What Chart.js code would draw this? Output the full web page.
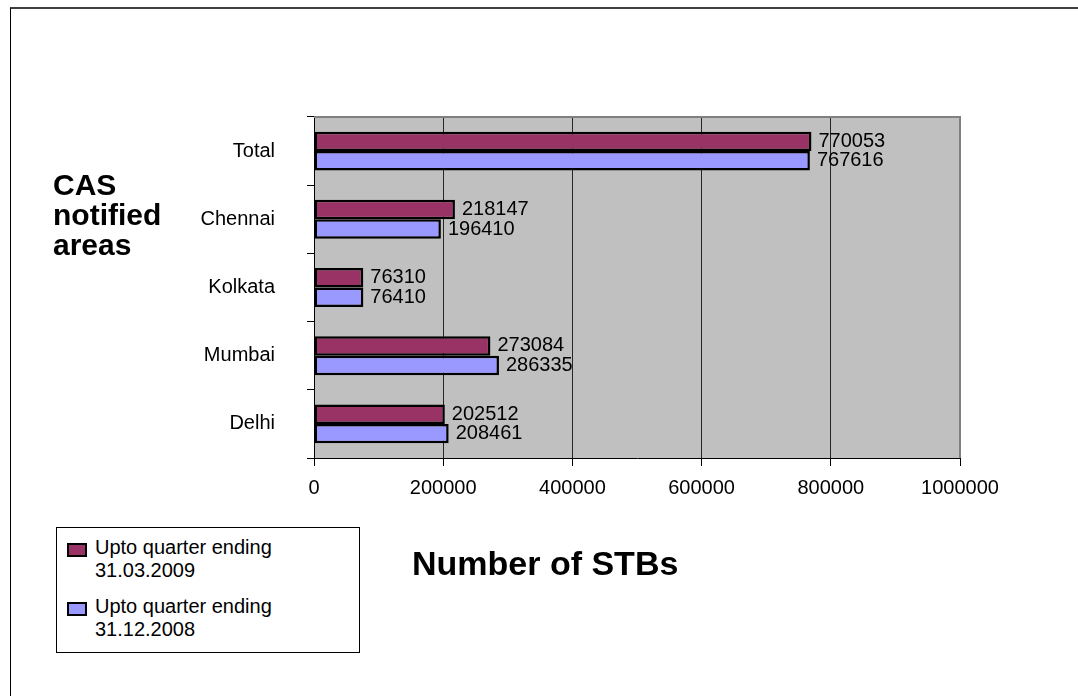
<!DOCTYPE html>
<html>
<head>
<meta charset="utf-8">
<script src="https://cdn.jsdelivr.net/npm/chart.js@4.4.1/dist/chart.umd.min.js"></script>
<style>
    html, body { margin: 0; padding: 0; background: #fff; overflow: hidden; }
    body { width: 1078px; height: 696px; position: relative; font-family: Arial, "Liberation Sans", sans-serif; }
    #frame { position: absolute; left: 10px; top: 7px; width: 2000px; height: 2000px;
             border-top: 2px solid #404040; border-left: 1px solid #000; }
    #chartCanvas { position: absolute; left: 0; top: 0; }
    #yTitle { position: absolute; left: 53px; top: 170px; font-weight: bold; font-size: 30px; line-height: 30px; color: #000; }
    #xTitle { position: absolute; left: 412px; top: 544px; font-weight: bold; font-size: 34px; color: #000; white-space: nowrap; }
    #legend { position: absolute; left: 56px; top: 527px; width: 302px; height: 124px; border: 1px solid #000; background: #fff; }
    .item { position: absolute; left: 10px; font-size: 20px; line-height: 23px; color: #000; }
    .swatch { position: absolute; left: 0; top: 7px; width: 16px; height: 10px; border: 2px solid #000; }
    .txt { position: absolute; left: 28px; top: 0; white-space: nowrap; }
</style>
</head>
<body>
<div id="frame"></div>
<canvas id="chartCanvas" width="1078" height="696"></canvas>
<div id="yTitle">CAS<br>notified<br>areas</div>
<div id="xTitle">Number of STBs</div>
<div id="legend"></div>
<script>
// categories, top to bottom
const areas = ["Total", "Chennai", "Kolkata", "Mumbai", "Delhi"];
const seriesNames = [
    ["Upto quarter ending", "31.03.2009"],
    ["Upto quarter ending", "31.12.2008"]
];
const seriesColors = ["#993366", "#9999FF"];
const stbMar2009 = [770053, 218147, 76310, 273084, 202512];
const stbDec2008 = [767616, 196410, 76410, 286335, 208461];
const xTicks = [0, 200000, 400000, 600000, 800000, 1000000];

const FONT = "Arial, 'Liberation Sans', sans-serif";

// gray plot background + top/right border
const plotBackground = {
    id: "plotBackground",
    beforeDraw(chart) {
        const { ctx, chartArea: a } = chart;
        ctx.save();
        ctx.fillStyle = "#C0C0C0";
        ctx.fillRect(a.left, a.top, a.right - a.left, a.bottom - a.top);
        ctx.restore();
    },
    afterDraw(chart) {
        const { ctx, chartArea: a } = chart;
        ctx.save();
        ctx.strokeStyle = "#808080";
        ctx.lineWidth = 2;
        ctx.beginPath();
        ctx.moveTo(a.left, a.top);
        ctx.lineTo(a.right, a.top);
        ctx.lineTo(a.right, a.bottom);
        ctx.stroke();
        ctx.restore();
    }
};

// value labels at the end of each bar
const valueLabels = {
    id: "valueLabels",
    afterDatasetsDraw(chart) {
        const ctx = chart.ctx;
        ctx.save();
        ctx.font = "20px " + FONT;
        ctx.fillStyle = "#000";
        ctx.textBaseline = "middle";
        ctx.textAlign = "left";
        chart.data.datasets.forEach((ds, di) => {
            chart.getDatasetMeta(di).data.forEach((bar, i) => {
                ctx.fillText(String(ds.data[i]), bar.x + 7, bar.y);
            });
        });
        ctx.restore();
    }
};

const ctx = document.getElementById("chartCanvas").getContext("2d");
const chart = new Chart(ctx, {
    type: "bar",
    data: {
        labels: areas,
        datasets: [
            {
                label: seriesNames[0].join(" "),
                data: stbMar2009,
                backgroundColor: seriesColors[0],
                borderColor: "#000",
                borderWidth: 2.5,
                borderSkipped: false,
                categoryPercentage: 0.57,
                barPercentage: 1.0,
            },
            {
                label: seriesNames[1].join(" "),
                data: stbDec2008,
                backgroundColor: seriesColors[1],
                borderColor: "#000",
                borderWidth: 2.5,
                borderSkipped: false,
                categoryPercentage: 0.57,
                barPercentage: 1.0,
            },
        ],
    },
    options: {
        indexAxis: "y",
        responsive: false,
        animation: false,
        devicePixelRatio: 1,
        layout: { padding: { top: 117, right: 118, left: 0, bottom: 0 } },
        plugins: {
            legend: { display: false },
            tooltip: { enabled: false },
        },
        scales: {
            x: {
                min: 0,
                max: 1000000,
                afterBuildTicks: scale => {
                    scale.ticks = xTicks.map(v => ({ value: v }));
                },
                afterFit: scale => { scale.height = 238; },
                ticks: {
                    color: "#000",
                    font: { size: 20, family: FONT },
                    padding: 10,
                    maxRotation: 0,
                    callback: v => String(v),
                },
                grid: {
                    color: "#262626",
                    lineWidth: 1,
                    tickLength: 8,
                    tickColor: "#000",
                },
                border: { display: true, color: "#000", width: 1 },
            },
            y: {
                afterFit: scale => { scale.width = 314; },
                ticks: {
                    color: "#000",
                    font: { size: 20, family: FONT },
                    padding: 32,
                },
                grid: {
                    offset: true,
                    drawOnChartArea: false,
                    tickLength: 7,
                    tickColor: "#000",
                },
                border: { display: true, color: "#000", width: 1 },
            },
        },
    },
    plugins: [plotBackground, valueLabels],
});

// legend built from the series arrays
const legendBox = document.getElementById("legend");
seriesNames.forEach((lines, i) => {
    const item = document.createElement("div");
    item.className = "item";
    item.style.top = (8 + i * 59) + "px";
    const sw = document.createElement("div");
    sw.className = "swatch";
    sw.style.background = seriesColors[i];
    const t = document.createElement("div");
    t.className = "txt";
    t.innerHTML = lines.join("<br>");
    item.appendChild(sw);
    item.appendChild(t);
    legendBox.appendChild(item);
});
</script>
</body>
</html>
